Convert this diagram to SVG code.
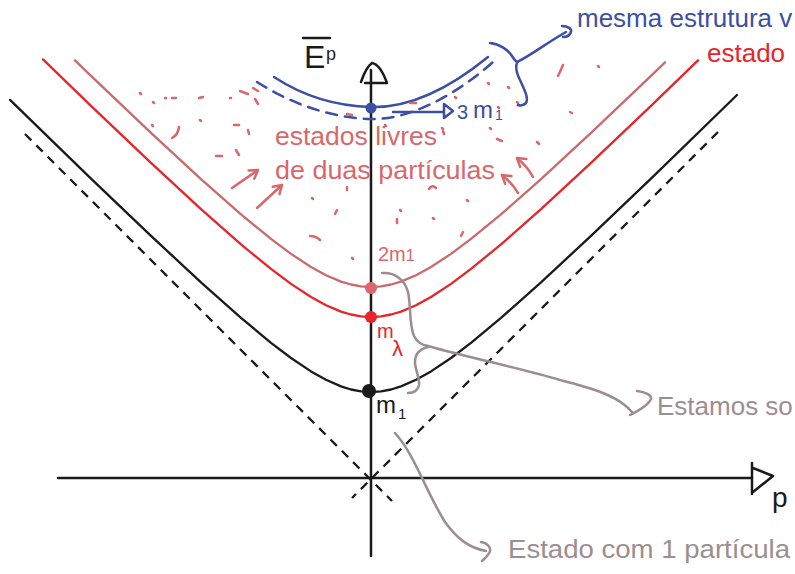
<svg xmlns="http://www.w3.org/2000/svg" width="795" height="574" viewBox="0 0 795 574">
<defs>
<style>
.ax{stroke:#1a1a1a;stroke-width:2.5;fill:none;stroke-linecap:round;stroke-linejoin:round}
.cv{stroke-width:2.3;fill:none;stroke-linejoin:round;stroke-linecap:round}
.blk{stroke:#1a1a1a}
.red{stroke:#e8242b}
.pk{stroke:#c96a6d}
.dash{stroke:#1a1a1a;stroke-width:2.3;fill:none;stroke-dasharray:9 7}
.bl{stroke:#3d4fa3;stroke-width:2.5;fill:none;stroke-linecap:round;stroke-linejoin:round}
.gr{stroke:#9c8d91;stroke-width:2.5;fill:none;stroke-linecap:round;stroke-linejoin:round}
.mk{stroke:#d9676b;stroke-width:2.5;fill:none;stroke-linecap:round}
text{font-family:"Liberation Sans",Arial,sans-serif}
.tpk{fill:#d9676b;font-size:25px}
.tgr{fill:#9c8d91;font-size:26px}
.tbl{fill:#3d4fa3}
.trd{fill:#e8242b}
</style>
<marker id="vpk" viewBox="-10 -7 12 14" markerWidth="12" markerHeight="14" refX="0" refY="0" orient="auto" markerUnits="userSpaceOnUse">
<path d="M-8,-5 L0,0 L-8,5" fill="none" stroke="#d9676b" stroke-width="2.5" stroke-linecap="round" stroke-linejoin="round"/>
</marker>
</defs>
<rect width="795" height="574" fill="#ffffff"/>

<g id="axes">
<line class="ax" x1="371" y1="70" x2="371" y2="556"/>
<path class="ax" d="M361,82 C364,73 368,66 372,63 C378,64 383,72 387,83 M365,83 L387,83"/>
<line class="ax" x1="58" y1="478" x2="752" y2="478"/>
<path class="ax" d="M752,463 L752,494 M753,468 L773,476 L753,492"/>
<line class="dash" x1="25" y1="134" x2="392" y2="501"/>
<line class="dash" x1="718" y1="132" x2="352" y2="498"/>
<line x1="303" y1="38" x2="330" y2="38" class="ax"/>
<text x="304" y="68" font-size="32" fill="#1a1a1a">E</text>
<text x="326" y="60" font-size="18" fill="#1a1a1a">p</text>
<text x="772" y="507" font-size="28" fill="#1a1a1a">p</text>
</g>

<g id="curve-m1">
<path class="cv blk" d="M10,99.9 L91,178.6 L151,235.9 L201,282.4 L241,317.9 L271,342.8 L291,358 L311,371.4 L326,379.8 L341,386.4 L351,389.5 L361,391.4 L371,392 L381,391.4 L391,389.5 L401,386.4 L416,379.8 L431,371.4 L451,358 L471,342.8 L501,317.9 L541,282.4 L591,235.9 L651,178.6 L737,95"/>
</g>
<g id="curve-mlambda">
<path class="cv red" d="M43,59.4 L91,105.8 L151,162.9 L201,209.1 L241,244.4 L271,268.9 L291,283.9 L311,297 L326,305.2 L341,311.6 L351,314.5 L361,316.4 L371,317 L381,316.4 L391,314.5 L401,311.6 L416,305.2 L431,297 L451,283.9 L471,268.9 L501,244.4 L541,209.1 L591,162.9 L651,105.8 L698,60.4"/>
</g>
<g id="curve-2m1">
<path class="cv pk" d="M75,60.4 L91,75.8 L151,132.9 L201,179.1 L241,214.4 L271,238.9 L291,253.9 L311,267 L326,275.2 L341,281.6 L351,284.5 L361,286.4 L371,287 L381,286.4 L391,284.5 L401,281.6 L416,275.2 L431,267 L451,253.9 L471,238.9 L501,214.4 L541,179.1 L591,132.9 L651,75.8 L665,62.3"/>
</g>
<g id="curve-3m1">
<path class="bl" d="M274,77 C300,94 330,106 371,107 C405,108 445,92 488,57"/>
<path class="bl" stroke-dasharray="11 8" d="M257,82 C290,103 330,118 371,119 C405,120 450,100 493,62"/>
</g>

<g id="scatter">
<path class="mk" d="M140,93 l1,1 M153,102 l1,1 M172,98 l4,0 M199,98 l4,-1 M230,98 l1,0 M240,91 l8,3 M255,99 l3,5 M152,125 l1,1 M179,127 Q178,135 172,138 M200,120 l1,1 M234,125 l5,0 M248,130 l1,4 M216,156 l6,0 M236,150 l3,5 M312,198 l1,1 M337,210 l-2,4 M347,187 l0,3 M310,236 Q316,236 320,240 M352,258 l1,1 M385,125 l1,1 M410,103 l6,0 M455,97 l1,1 M498,107 l1,1 M517,102 l1,1 M490,128 l1,1 M442,128 l1,1 M400,210 l1,1 M397,219 l0,4 M429,189 Q432,184 436,188 M433,218 l1,1 M467,200 l1,1 M463,232 l-2,4 M443,131 l1,3 M497,139 l5,2 M537,142 l2,2 M488,83 l1,1 M508,87 l1,1 M563,65 Q560,72 558,76 M598,66 l1,1 M570,112 l2,1 M347,114 l5,1 M253,88 l5,3 M165,98 l1,0"/>
</g>

<g id="dots">
<circle cx="371" cy="108" r="5.5" fill="#3d4fa3"/>
<circle cx="371" cy="288" r="6" fill="#d9676b"/>
<circle cx="371" cy="317" r="6" fill="#e8242b"/>
<circle cx="369" cy="391" r="7" fill="#1a1a1a"/>
</g>

<g id="labels">
<text x="378" y="261" font-size="20" fill="#d9676b">2m<tspan font-size="16">1</tspan></text>
<text x="377" y="338" font-size="20" class="trd">m</text>
<text x="392" y="356" font-size="22" class="trd">λ</text>
<text x="376" y="413" font-size="24" fill="#1a1a1a">m</text>
<text x="398" y="419" font-size="15" fill="#1a1a1a">1</text>
<text x="457" y="119" font-size="20" class="tbl">3</text>
<text x="473" y="118" font-size="24" class="tbl">m</text>
<text x="495" y="120" font-size="14" class="tbl">1</text>
<text x="275" y="145" class="tpk" textLength="162" lengthAdjust="spacingAndGlyphs">estados livres</text>
<text x="275" y="179" class="tpk" textLength="220" lengthAdjust="spacingAndGlyphs">de duas partículas</text>
<text x="577" y="27" font-size="26" class="tbl">mesma estrutura v</text>
<text x="707" y="62" font-size="26" class="trd">estado</text>
<text x="657" y="415" class="tgr">Estamos so</text>
<text x="508" y="558" class="tgr" textLength="282" lengthAdjust="spacingAndGlyphs">Estado com 1 partícula</text>
</g>

<g id="connectors">
<path class="mk" marker-end="url(#vpk)" d="M232,188 L258,170"/>
<path class="mk" marker-end="url(#vpk)" d="M257,208 L282,185"/>
<path class="mk" marker-end="url(#vpk)" d="M518,193 Q512,183 502,175"/>
<path class="mk" marker-end="url(#vpk)" d="M533,177 Q527,166 517,158"/>
<path class="bl" d="M393,112 L444,112 M444,104 L453,111 L444,118 Z"/>
<path class="bl" d="M490,43 C500,44 508,50 512,56 C514,59 515,61 517,62 M517,63 C515,68 517,74 520,80 C524,89 529,98 526,103 C524,105 521,106 518,105"/>
<path class="bl" d="M517,62 C530,56 545,44 566,32 M562,26 C568,26 572,29 571,32 C570,35 567,37 563,37"/>
<path class="gr" d="M382,273 C395,272 405,280 408,292 C411,305 409,325 414,336 C417,342 422,345 428,346 M428,347 C420,349 415,353 415,362 C415,370 420,378 419,385 C418,390 414,393 408,393"/>
<path class="gr" d="M428,346 C470,358 520,368 560,380 C600,390 620,398 632,412 M637,391 C645,392 652,395 651,399 C649,404 640,410 630,415"/>
<path class="gr" d="M395,433 C415,455 425,490 445,522 C458,540 470,548 486,551 M481,542 C487,543 491,547 490,551 C489,555 485,558 482,561"/>
</g>
</svg>
